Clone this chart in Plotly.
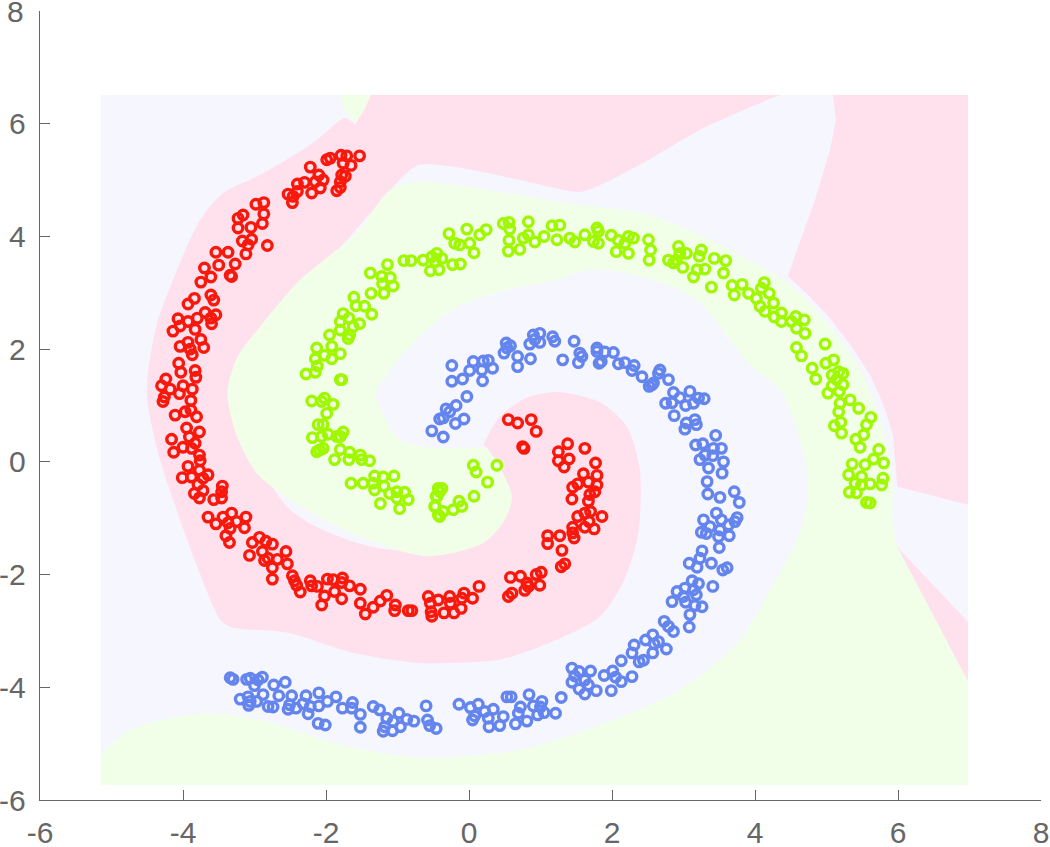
import plotly.graph_objects as go

tick_values = [-6, -4, -2, 0, 2, 4, 6, 8]
x_tick_labels = ["-6", "-4", "-2", "0", "2", "4", "6", "8"]
y_tick_labels = ["-6", "-4", "-2", "0", "2", "4", "6", ""]
top_y_label = "8"

red_points = [
(-1.53,5.43),(-1.65,5.26),(-1.76,5.30),(-1.79,5.44),(-1.71,5.43),(-1.99,5.36),(-1.94,5.39),(-2.22,5.23),(-2.10,5.09),(-2.04,5.00),
(-2.15,4.97),(-2.08,4.86),(-2.20,4.77),(-2.30,4.96),(-2.40,4.93),(-2.40,4.80),(-2.53,4.75),(-2.47,4.60),(-2.46,4.71),(-1.78,5.09),
(-1.73,5.07),(-1.80,4.97),(-1.85,4.81),(-1.80,4.87),(-2.87,4.60),(-2.98,4.57),(-2.87,4.40),(-2.89,4.23),(-3.16,4.38),(-3.23,4.32),
(-3.23,4.15),(-3.05,4.16),(-3.04,3.95),(-3.17,3.92),(-3.09,3.85),(-3.12,3.69),(-2.82,3.84),(-3.54,3.72),(-3.37,3.72),(-3.50,3.49),
(-3.27,3.51),(-3.70,3.44),(-3.61,3.28),(-3.34,3.31),(-3.32,3.29),(-3.75,3.19),(-3.84,2.90),(-3.93,2.80),(-3.61,2.96),(-3.57,2.87),
(-3.69,2.65),(-3.54,2.61),(-3.80,2.55),(-3.61,2.55),(-3.60,2.45),(-4.07,2.54),(-3.93,2.49),(-4.04,2.41),(-3.83,2.35),(-4.14,2.32),
(-4.04,2.05),(-3.93,2.12),(-3.90,2.00),(-3.75,2.17),(-3.71,2.03),(-3.87,1.90),(-4.06,1.75),(-4.03,1.59),(-3.83,1.62),(-3.82,1.50),
(-4.24,1.47),(-4.30,1.35),(-4.00,1.35),(-4.18,1.29),(-3.87,1.29),(-4.05,1.21),(-4.26,1.15),(-4.28,1.07),(-3.89,1.09),(-4.11,0.83),
(-3.97,0.89),(-3.89,0.92),(-3.81,0.80),(-3.95,0.60),(-3.77,0.53),(-4.16,0.40),(-3.91,0.44),(-3.83,0.33),(-4.00,0.26),(-3.88,0.24),
(-4.13,0.17),(-3.77,0.12),(-3.76,0.02),(-3.93,-0.08),(-3.77,-0.15),(-3.65,-0.23),(-4.01,-0.28),(-3.88,-0.27),(-3.72,-0.29),(-3.79,-0.40),
(-3.45,-0.43),(-3.72,-0.51),(-3.84,-0.56),(-3.46,-0.53),(-3.77,-0.64),(-3.46,-0.64),(-3.57,-0.67),(-3.65,-0.98),(-3.44,-0.98),(-3.32,-0.91),
(-3.12,-0.98),(-3.54,-1.10),(-3.37,-1.08),(-3.25,-1.06),(-3.34,-1.18),(-3.14,-1.17),(-3.40,-1.31),(-3.35,-1.43),(-3.03,-1.43),(-2.93,-1.34),
(-2.84,-1.41),(-2.75,-1.46),(-3.07,-1.66),(-2.89,-1.59),(-2.86,-1.75),(-2.81,-1.71),(-2.68,-1.73),(-2.56,-1.59),(-2.54,-1.81),(-2.75,-1.88),
(-2.75,-2.08),(-2.47,-2.02),(-2.44,-2.11),(-2.41,-2.19),(-2.36,-2.31),(-2.22,-2.11),(-2.20,-2.20),(-2.12,-2.21),(-1.98,-2.08),(-1.90,-2.09),
(-1.77,-2.06),(-1.78,-2.14),(-1.67,-2.20),(-1.52,-2.26),(-1.88,-2.30),(-2.02,-2.38),(-1.78,-2.43),(-2.06,-2.54),(-1.52,-2.51),(-1.45,-2.70),
(-1.34,-2.58),(-1.24,-2.47),(-1.15,-2.37),(-1.03,-2.54),(-1.04,-2.64),(-0.85,-2.64),(-0.80,-2.64),(-0.57,-2.39),(-0.54,-2.51),(-0.43,-2.45),
(-0.53,-2.66),(-0.52,-2.74),(-0.35,-2.68),(-0.27,-2.39),(-0.26,-2.51),(-0.21,-2.68),(-0.11,-2.60),(-0.10,-2.42),(-0.07,-2.33),(0.05,-2.42),
(0.14,-2.21),(0.55,-2.39),(0.60,-2.33),(0.58,-2.05),(0.72,-2.03),(0.81,-2.15),(0.78,-2.28),(0.83,-2.21),(0.94,-2.00),(1.01,-1.96),
(0.99,-2.19),(1.29,-1.86),(1.34,-1.81),(1.30,-1.57),(1.10,-1.31),(1.10,-1.45),(1.27,-1.31),(1.47,-1.35),(1.45,-1.26),(1.45,-1.16),
(1.52,-0.97),(1.62,-1.16),(1.75,-1.19),(1.68,-1.06),(1.86,-0.97),(1.70,-0.88),(1.62,-0.91),(1.67,-0.70),(1.44,-0.66),(1.69,-0.58),
(1.76,-0.53),(1.67,-0.36),(1.79,-0.41),(1.45,-0.45),(1.52,-0.39),(1.60,-0.21),(1.79,-0.24),(1.77,-0.02),(1.33,-0.09),(1.25,0.02),
(1.40,0.05),(1.25,0.18),(1.38,0.32),(1.62,0.24),(0.75,0.27),(0.77,0.24),(0.55,0.75),(0.68,0.69),(0.87,0.75),(0.94,0.54),
]

lime_points = [
(-2.28,1.56),(-2.15,1.59),(-2.13,2.02),(-2.15,1.83),(-2.12,1.70),(-2.02,1.89),(-1.92,2.05),(-1.92,1.83),(-1.80,1.92),(-1.95,2.25),
(-1.80,2.34),(-1.80,2.49),(-1.76,2.63),(-1.68,2.55),(-1.62,2.40),(-1.53,2.45),(-1.69,2.19),(-1.67,2.25),(-1.61,2.92),(-1.58,2.77),
(-1.46,2.76),(-1.36,2.62),(-1.37,2.99),(-1.19,2.99),(-1.38,3.35),(-1.14,3.50),(-1.22,3.29),(-1.10,3.27),(-1.21,3.16),(-1.06,3.12),
(-0.91,3.57),(-0.81,3.57),(-0.64,3.58),(-0.52,3.64),(-0.45,3.70),(-0.38,3.61),(-0.47,3.55),(-0.54,3.39),(-0.42,3.41),(-0.23,3.50),
(-0.12,3.51),(-0.28,4.05),(-0.03,4.13),(-0.20,3.88),(-0.13,3.85),(0.01,3.88),(0.07,3.71),(0.15,4.03),(0.24,4.12),(0.48,4.23),
(0.56,4.25),(0.57,4.13),(0.83,4.26),(0.56,3.93),(0.55,3.74),(0.71,3.77),(0.76,3.97),(0.83,4.03),(0.92,3.90),(1.05,4.00),
(1.23,3.94),(1.16,4.19),(1.27,4.20),(1.41,3.97),(1.48,3.90),(1.62,4.03),(-1.80,1.46),(-1.78,1.46),(-2.20,1.08),(-2.06,1.07),
(-2.02,1.13),(-1.90,1.02),(-1.99,0.86),(-2.11,0.66),(-2.04,0.66),(-2.19,0.43),(-2.06,0.45),(-1.97,0.49),(-1.85,0.45),(-1.76,0.53),
(-1.80,0.45),(-2.13,0.18),(-2.04,0.24),(-2.09,0.21),(-1.80,0.22),(-1.67,0.17),(-1.52,0.12),(-1.50,0.04),(-1.39,0.02),(-1.88,0.04),
(-1.68,0.04),(-1.65,-0.38),(-1.48,-0.38),(-1.32,-0.25),(-1.20,-0.27),(-1.05,-0.25),(-1.34,-0.38),(-1.32,-0.50),(-1.19,-0.43),(-1.11,-0.56),
(-1.01,-0.53),(-0.90,-0.54),(-1.01,-0.64),(-0.85,-0.67),(-1.24,-0.74),(-0.97,-0.83),(-0.45,-0.62),(-0.48,-0.79),(-0.43,-0.94),(-0.43,-0.47),
(-0.38,-0.47),(-0.41,-0.53),(-0.46,-0.61),(-0.47,-0.79),(-0.41,-0.97),(-0.36,-0.88),(-0.22,-0.85),(-0.14,-0.70),(-0.10,-0.79),(0.07,-0.61),
(0.06,-0.06),(0.10,-0.18),(0.39,-0.06),(0.26,-0.36),(1.79,4.15),(1.81,4.09),(1.74,3.91),(1.81,3.88),(1.99,4.02),(2.09,3.93),
(2.23,4.00),(2.30,3.97),(2.18,3.88),(2.06,3.73),(2.23,3.70),(2.51,3.94),(2.54,3.76),(2.52,3.58),(2.93,3.82),(2.79,3.58),
(2.86,3.53),(2.95,3.70),(3.04,3.70),(2.99,3.45),(2.90,3.58),(3.25,3.76),(3.22,3.65),(3.43,3.61),(3.59,3.57),(3.56,3.35),
(3.30,3.42),(3.19,3.41),(3.14,3.28),(3.39,3.10),(3.68,3.13),(3.82,3.15),(3.71,2.96),(4.13,3.18),(3.91,2.99),(4.09,3.08),
(4.20,2.99),(4.02,2.90),(4.07,2.76),(4.14,2.67),(4.26,2.82),(4.27,2.57),(4.37,2.64),(4.37,2.49),(4.51,2.49),(4.57,2.58),
(4.69,2.52),(4.58,2.37),(4.70,2.28),(4.98,2.09),(4.58,2.03),(4.65,1.88),(4.80,1.66),(4.85,1.47),(4.99,1.75),(5.10,1.81),
(5.08,1.54),(5.23,1.57),(5.17,1.60),(5.14,1.46),(5.23,1.37),(5.08,1.35),(5.02,1.22),(5.18,1.25),(5.33,1.10),(5.45,0.95),
(5.19,1.04),(5.17,0.89),(5.11,0.64),(5.20,0.70),(5.21,0.51),(5.62,0.79),(5.56,0.66),(5.52,0.48),(5.41,0.40),(5.47,0.26),
(5.73,0.22),(5.66,0.05),(5.80,-0.02),(5.36,-0.04),(5.54,-0.05),(5.31,-0.23),(5.49,-0.26),(5.40,-0.38),(5.61,-0.39),(5.79,-0.29),
(5.77,-0.41),(5.32,-0.54),(5.42,-0.55),(5.56,-0.72),(5.61,-0.73),(5.49,-0.41),
]

blue_points = [
(-0.24,1.71),(0.06,1.78),(0.20,1.79),(0.27,1.80),(0.33,1.66),(0.18,1.63),(0.01,1.62),(-0.09,1.47),(-0.24,1.43),(0.19,1.44),
(-0.03,1.16),(-0.18,1.00),(-0.32,0.94),(-0.27,0.89),(-0.41,0.76),(-0.36,0.78),(-0.07,0.76),(-0.19,0.68),(-0.52,0.55),(-0.36,0.44),
(0.49,1.93),(0.52,2.11),(0.58,2.06),(0.53,2.02),(0.68,1.87),(0.68,1.69),(0.86,1.83),(0.85,2.09),(0.90,2.25),(0.99,2.28),
(0.92,2.17),(0.99,2.12),(1.17,2.22),(1.20,2.14),(1.47,2.14),(1.31,1.81),(1.53,1.76),(1.55,1.93),(1.58,1.87),(1.79,2.02),
(1.79,1.96),(1.90,1.95),(2.02,1.94),(1.82,1.75),(1.85,1.78),(2.09,1.74),(2.18,1.76),(2.31,1.71),(2.28,1.62),(2.42,1.51),
(2.67,1.63),(2.65,1.57),(2.79,1.46),(2.56,1.37),(2.52,1.34),(2.58,1.40),(2.86,1.23),(3.09,1.25),(2.95,1.14),(2.75,1.04),
(2.84,1.05),(3.03,1.00),(3.14,1.04),(2.87,0.82),(3.04,0.69),(3.02,0.58),(3.16,0.75),(3.18,0.66),(3.17,0.30),(3.23,0.04),
(3.29,1.12),(3.21,1.13),(3.45,0.47),(3.27,0.32),(3.53,0.24),(3.42,0.24),(3.30,0.12),(3.41,0.11),(3.56,0.00),(3.35,-0.11),
(3.54,-0.20),(3.33,-0.35),(3.34,-0.57),(3.51,-0.63),(3.71,-0.53),(3.78,-0.72),(3.46,-0.91),(3.75,-0.99),(3.72,-1.06),(3.28,-1.03),
(3.37,-1.15),(3.53,-1.03),(3.63,-1.12),(3.25,-1.25),(3.32,-1.27),(3.51,-1.21),(3.49,-1.33),(3.64,-1.31),(3.50,-1.52),(3.26,-1.58),
(3.23,-1.71),(3.08,-1.80),(3.19,-1.87),(3.39,-1.80),(3.55,-1.92),(3.61,-1.88),(3.41,-2.21),(3.12,-2.11),(3.21,-2.16),(2.91,-2.30),
(3.02,-2.24),(3.14,-2.27),(3.18,-2.36),(3.00,-2.39),(2.84,-2.48),(3.03,-2.49),(3.16,-2.55),(3.26,-2.57),(3.09,-2.71),(3.08,-2.93),
(2.73,-2.83),(2.79,-2.92),(2.86,-3.01),(2.57,-3.07),(2.47,-3.16),(2.31,-3.25),(2.65,-3.19),(2.59,-3.23),(2.76,-3.32),(2.57,-3.39),
(2.28,-3.39),(2.44,-3.52),(2.38,-3.55),(2.13,-3.53),(1.44,-3.66),(1.70,-3.71),(1.54,-3.72),(1.48,-3.80),(1.44,-3.91),(1.62,-3.87),
(1.67,-3.96),(1.54,-4.03),(1.78,-4.06),(1.62,-4.12),(1.89,-3.79),(2.01,-3.71),(2.05,-3.82),(2.13,-3.90),(2.28,-3.81),(1.99,-4.06),
(1.29,-4.18),(0.84,-4.13),(0.53,-4.17),(0.59,-4.17),(-0.14,-4.30),(0.02,-4.36),(0.13,-4.30),(0.34,-4.39),(0.22,-4.43),(0.08,-4.51),
(0.05,-4.58),(0.27,-4.55),(0.28,-4.70),(0.43,-4.68),(0.48,-4.52),(0.65,-4.65),(0.81,-4.60),(0.69,-4.46),(0.72,-4.35),(0.90,-4.33),
(1.02,-4.25),(1.00,-4.35),(0.96,-4.49),(1.05,-4.45),(1.21,-4.46),(-3.34,-3.83),(-3.30,-3.86),(-3.11,-3.86),(-3.06,-3.84),(-2.95,-3.87),
(-2.89,-3.82),(-3.00,-3.97),(-2.73,-3.96),(-2.57,-3.91),(-3.20,-4.21),(-3.09,-4.17),(-3.06,-4.25),(-2.97,-4.25),(-3.08,-4.32),(-2.88,-4.13),
(-2.66,-4.15),(-2.81,-4.34),(-2.74,-4.35),(-2.48,-4.15),(-2.28,-4.15),(-2.10,-4.10),(-1.86,-4.17),(-1.98,-4.25),(-2.10,-4.33),(-2.22,-4.34),
(-2.32,-4.29),(-2.42,-4.37),(-2.53,-4.39),(-2.51,-4.31),(-2.25,-4.47),(-2.11,-4.64),(-2.01,-4.67),(-1.77,-4.37),(-1.63,-4.27),(-1.64,-4.37),
(-1.52,-4.48),(-1.52,-4.71),(-1.34,-4.34),(-1.25,-4.40),(-1.15,-4.55),(-0.98,-4.46),(-0.87,-4.57),(-0.77,-4.60),(-0.60,-4.33),(-0.58,-4.58),
(-0.55,-4.68),(-0.46,-4.73),(-1.06,-4.61),(-1.18,-4.70),(-1.20,-4.78),(-1.07,-4.77),(-0.96,-4.70),
]

backdrop_outline = [(-5.15,6.51),(6.98,6.51),(6.98,-5.73),(-5.15,-5.73)]

pink_spiral_outline = [
(-1.39,6.47),(-1.37,6.51),(-1.30,6.51),(4.25,6.51),(4.35,6.51),(4.25,6.46),(3.23,5.89),(2.39,5.27),(1.75,4.86),(1.55,4.79),(1.30,4.83),(0.71,5.00),(-0.13,5.22),(-0.69,5.27),(-0.87,5.13),(-1.34,4.47),
(-1.80,3.81),(-2.36,3.14),(-3.20,1.10),(-2.50,-0.85),(-0.97,-1.56),(0.29,-0.67),(0.25,0.25),(0.20,0.30),(0.23,0.38),(0.43,0.80),(0.81,1.14),
(1.23,1.24),(1.83,1.06),(2.21,0.62),(2.39,-0.14),(2.36,-1.33),(2.15,-2.15),(1.83,-2.75),(1.13,-3.21),(0.43,-3.51),(-0.27,-3.57),
(-0.69,-3.57),(-1.62,-3.39),(-2.55,-3.03),(-3.34,-2.93),(-3.48,-2.80),(-3.80,-1.86),(-4.14,-0.67),(-4.36,0.21),(-4.50,1.10),(-4.49,1.58),
(-4.36,2.47),(-4.14,3.23),(-3.76,4.29),(-3.44,4.77),(-2.97,5.06),(-2.18,5.66),(-1.73,6.10),(-1.59,5.98),
]
pink_corner_outline = [
(5.09,6.51),(5.13,6.07),(5.05,5.54),(4.84,4.65),(4.46,3.30),(4.75,2.95),(5.05,2.55),(5.35,2.05),(5.61,1.54),(5.80,1.00),(5.93,0.48),(5.99,-0.44),(6.98,-0.76),(6.98,6.51),
]
pink_sliver_outline = [(5.99,-1.51),(6.98,-2.84),(6.98,-3.90)]

green_band_outline = [
(-5.15,-5.68),(-5.15,-5.73),(-5.10,-5.73),(6.93,-5.73),(6.98,-5.73),(6.98,-5.68),(6.98,-3.98),(6.98,-3.90),(6.94,-3.80),(6.75,-3.35),(6.45,-2.62),(6.20,-2.02),(6.02,-1.58),(5.99,-1.51),(5.97,-1.42),(5.92,-0.98),(5.93,-0.44),
(5.78,0.62),(5.47,1.63),(5.05,2.40),(4.49,3.14),(3.51,3.85),(2.53,4.38),(1.55,4.56),(0.43,4.79),(-0.69,4.97),(-1.10,4.83),
(-1.57,4.06),(-2.36,3.23),(-2.92,2.40),(-3.24,1.86),(-3.38,1.22),(-3.24,0.44),(-2.97,-0.20),(-2.50,-0.67),(-1.80,-1.17),(-1.10,-1.53),
(-0.64,-1.67),(-0.36,-1.65),(0.20,-1.44),(0.50,-1.03),(0.60,-0.62),(0.43,-0.09),(0.27,0.22),(0.25,0.25),(0.20,0.25),(-0.03,0.25),(-0.50,0.25),
(-0.97,0.39),(-1.20,0.83),(-1.31,1.19),(-1.10,1.63),(-0.64,2.29),(-0.17,2.75),(0.53,3.05),(1.23,3.23),(1.69,3.41),(2.49,3.26),
(3.19,2.87),(3.93,1.72),(4.35,1.28),(4.67,0.21),(4.74,-0.67),(4.56,-1.47),(4.21,-2.27),(3.79,-3.16),(2.95,-4.05),(1.83,-4.67),
(0.71,-5.11),(-0.69,-5.25),(-1.80,-5.02),(-2.92,-4.58),(-3.76,-4.47),(-4.74,-4.76),(-5.15,-5.20),
]
green_patch_outline = [(-1.79,6.51),(-1.76,6.28),(-1.59,6.01),(-1.48,6.21),(-1.37,6.51)]

LAVENDER = "#F6F6FF"
PINK = "#FFE1EE"
PALE_GREEN = "#F1FFE8"
INK = "#666666"
FONT = dict(family="Liberation Sans", size=30, color=INK)


def region(outline, colour, smooth=False):
    line = dict(width=0, color=colour)
    if smooth:
        line.update(shape="spline", smoothing=0.8)
    return go.Scatter(
        x=[p[0] for p in outline], y=[p[1] for p in outline],
        mode="lines", fill="toself", fillcolor=colour,
        line=line, hoverinfo="skip", showlegend=False,
    )


def cloud(points, colour):
    return go.Scatter(
        x=[p[0] for p in points], y=[p[1] for p in points],
        mode="markers", showlegend=False,
        marker=dict(symbol="circle-open", size=9.5, color=colour, line=dict(width=3.4, color=colour)),
    )


fig = go.Figure([
    region(backdrop_outline, LAVENDER),
    region(pink_spiral_outline, PINK, True),
    region(pink_corner_outline, PINK),
    region(pink_sliver_outline, PINK),
    region(green_band_outline, PALE_GREEN, True),
    region(green_patch_outline, PALE_GREEN),
    cloud(red_points, "#F8180C"),
    cloud(lime_points, "#9FF800"),
    cloud(blue_points, "#6485EE"),
])

axis = dict(
    tickvals=tick_values, ticks="inside", ticklen=10, tickwidth=1.2,
    tickcolor=INK, showgrid=False, zeroline=False, showline=True, linecolor=INK, linewidth=1.4,
    tickfont=FONT, mirror=False, automargin=False,
)
fig.update_xaxes(range=[-6, 8], ticktext=x_tick_labels, ticklabelstandoff=6, **axis)
fig.update_yaxes(range=[-6, 8], ticktext=y_tick_labels, ticklabelstandoff=7, **axis)
fig.add_annotation(
    x=-6, y=8, text=top_y_label, showarrow=False, xanchor="right", yanchor="middle",
    xshift=-14, font=FONT,
)
fig.update_layout(
    width=1050, height=847, autosize=False, paper_bgcolor="white", plot_bgcolor="white",
    margin=dict(l=40, r=9, t=11, b=47), showlegend=False,
)
fig.write_html("out.html", post_script="document.body.style.margin='0';", config={"displayModeBar": False})
